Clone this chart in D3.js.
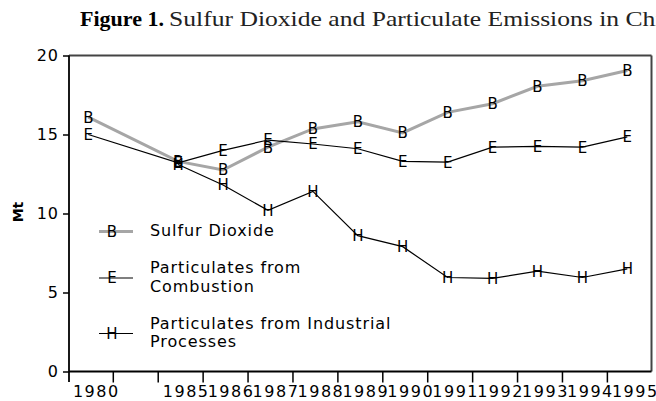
<!DOCTYPE html>
<meta charset="utf-8">
<style>

body { margin: 0; background: #fff; }
svg { display: block; }
text { font-family: "DejaVu Sans", sans-serif; fill: #000; }

</style>
<svg width="656" height="401"></svg>
<script src="https://cdn.jsdelivr.net/npm/d3@7/dist/d3.min.js"></script>
<script>

// year slots on the category axis (one empty slot between 1980 and 1985)
var categories = ["1980", "", "1985", "1986", "1987", "1988", "1989", "1990", "1991", "1992", "1993", "1994", "1995"];
var yTicks = [0, 5, 10, 15, 20];

// Mt
var sulfurDioxide = [16.1, null, 13.3, 12.75, 14.2, 15.35, 15.8, 15.1, 16.4, 16.95, 18.05, 18.4, 19.05];
var combustion    = [15.0, null, 13.2, 14.0, 14.65, 14.4, 14.1, 13.3, 13.25, 14.2, 14.25, 14.2, 14.85];
var industrial    = [null, null, 13.1, 11.8, 10.2, 11.4, 8.6, 7.9, 5.95, 5.9, 6.35, 5.95, 6.5];

var series = [
  {name: ["Sulfur Dioxide"], values: sulfurDioxide, letter: "B", color: "#a6a6a6", width: 3, legendY: 231.5},
  {name: ["Particulates from", "Combustion"], values: combustion, letter: "E", color: "#000", width: 1.2, legendY: 278},
  {name: ["Particulates from Industrial", "Processes"], values: industrial, letter: "H", color: "#000", width: 1.2, legendY: 333.5}
];

var svg = d3.select("svg"),
    plotLeft = 69, plotRight = 651.5, plotTop = 55.5, plotBottom = 371.5;

var x = d3.scalePoint()
    .domain(categories)
    .range([88.3, 627.3]);

var y = d3.scaleLinear()
    .domain([0, 20])
    .range([plotBottom, plotTop]);

// title
svg.append("text")
    .attr("transform", "translate(80,26) scale(1.05,1)")
    .style("font-family", "'Liberation Serif', serif")
    .style("font-size", "21px")
    .style("font-weight", "bold")
    .text("Figure 1.");
svg.append("text")
    .attr("transform", "translate(169,26) scale(1.22,1)")
    .style("font-family", "'Liberation Serif', serif")
    .style("font-size", "21px")
    .style("fill", "#222")
    .text("Sulfur Dioxide and Particulate Emissions in China");

// frame
svg.append("line").attr("x1", plotLeft).attr("x2", plotRight).attr("y1", plotTop).attr("y2", plotTop)
    .attr("stroke", "#444").attr("stroke-width", 2);
svg.append("line").attr("x1", plotRight).attr("x2", plotRight).attr("y1", plotTop).attr("y2", plotBottom)
    .attr("stroke", "#444").attr("stroke-width", 2);
svg.append("line").attr("x1", plotLeft).attr("x2", plotLeft).attr("y1", plotTop).attr("y2", plotBottom + 10.5)
    .attr("stroke", "#000").attr("stroke-width", 1.8);
svg.append("line").attr("x1", plotLeft).attr("x2", plotRight).attr("y1", plotBottom).attr("y2", plotBottom)
    .attr("stroke", "#000").attr("stroke-width", 1.8);

// y axis
var yAxis = svg.append("g")
    .attr("transform", "translate(" + plotLeft + ",0)")
    .call(d3.axisLeft(y).tickValues(yTicks).tickSize(6).tickPadding(4));
yAxis.select(".domain").remove();
yAxis.selectAll("line").attr("stroke", "#000").attr("stroke-width", 1.5);
yAxis.selectAll("text")
    .style("font-family", "'DejaVu Sans', sans-serif")
    .style("font-size", "16px")
    .style("letter-spacing", "1px");

svg.append("text")
    .attr("transform", "translate(18,212) rotate(-90)")
    .attr("text-anchor", "middle")
    .attr("dy", "0.35em")
    .style("font-size", "14px")
    .style("font-weight", "bold")
    .text("Mt");

// x axis: ticks sit between the year slots
svg.selectAll(".xtick")
  .data(categories.slice(0, -1))
  .enter().append("line")
    .attr("class", "xtick")
    .attr("x1", function(d) { return x(d) + 25; })
    .attr("x2", function(d) { return x(d) + 25; })
    .attr("y1", plotBottom)
    .attr("y2", plotBottom + 11)
    .attr("stroke", "#000")
    .attr("stroke-width", 1.5);

svg.selectAll(".xlabel")
  .data(categories.filter(function(d) { return d; }))
  .enter().append("text")
    .attr("class", "xlabel")
    .attr("x", function(d) { return x(d) + 8; })
    .attr("y", 397)
    .attr("text-anchor", "middle")
    .style("font-size", "16px")
    .style("letter-spacing", "1.5px")
    .text(function(d) { return d; });

// lines
var line = d3.line()
    .x(function(d) { return x(d.c); })
    .y(function(d) { return y(d.v); });

function points(s) {
  return categories
    .map(function(c, i) { return {c: c, v: s.values[i]}; })
    .filter(function(d) { return d.v != null; });
}

svg.selectAll(".series")
  .data(series)
  .enter().append("path")
    .attr("class", "series")
    .attr("fill", "none")
    .attr("stroke", function(d) { return d.color; })
    .attr("stroke-width", function(d) { return d.width; })
    .attr("d", function(d) { return line(points(d)); });

series.forEach(function(s) {
  svg.selectAll(null)
    .data(points(s))
    .enter().append("text")
      .attr("x", function(d) { return x(d.c); })
      .attr("y", function(d) { return y(d.v); })
      .attr("dy", "0.36em")
      .attr("text-anchor", "middle")
      .style("font-size", "15px")
      .text(s.letter);
});

// legend
var legend = svg.selectAll(".legend")
  .data(series)
  .enter().append("g")
    .attr("class", "legend")
    .attr("transform", function(d) { return "translate(0," + d.legendY + ")"; });

legend.append("line")
    .attr("x1", 99).attr("x2", 133)
    .attr("stroke", function(d) { return d.color; })
    .attr("stroke-width", function(d) { return d.width; });

legend.append("text")
    .attr("x", 112)
    .attr("dy", "0.36em")
    .attr("text-anchor", "middle")
    .style("font-size", "15px")
    .text(function(d) { return d.letter; });

legend.append("text")
    .attr("x", 150)
    .style("font-size", "16px")
    .style("letter-spacing", "0.9px")
  .selectAll("tspan")
  .data(function(d) { return d.name; })
  .enter().append("tspan")
    .attr("x", 150)
    .attr("y", function(d, i, nodes) { return nodes.length > 1 ? -5 + i * 18.5 : 4; })
    .text(function(d) { return d; });

</script>
